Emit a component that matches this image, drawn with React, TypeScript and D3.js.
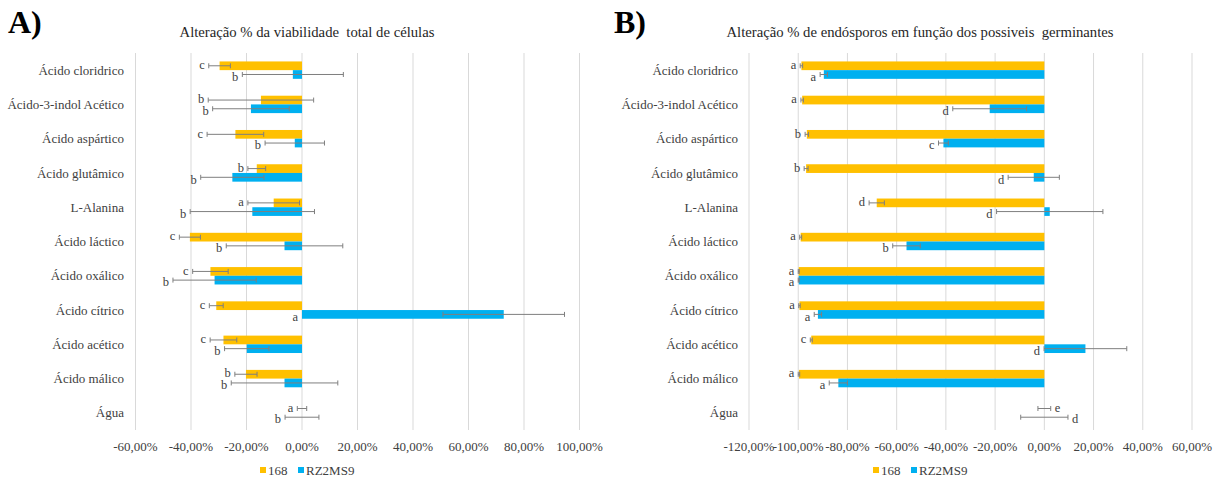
import React from 'react';
import * as d3 from 'd3';

const categories = [
  'Ácido cloridrico', 'Ácido-3-indol Acético', 'Ácido aspártico', 'Ácido glutâmico', 'L-Alanina',
  'Ácido láctico', 'Ácido oxálico', 'Ácido cítrico', 'Ácido acético', 'Ácido málico', 'Água'
];
const seriesNames = ['168', 'RZ2MS9'];

// Panel A: viabilidade total
const a168 = [-29.7, -14.8, -24.0, -16.3, -10.2, -40.4, -33.0, -30.9, -28.3, -20.2, 0];
const a168Err = [3.9, 19.0, 10.2, 3.2, 9.3, 3.8, 6.4, 2.5, 4.8, 4.0, 1.7];
const aRz = [-3.3, -18.4, -2.6, -25.1, -17.9, -6.3, -31.5, 72.7, -19.9, -6.3, 0];
const aRzErr = [18.2, 13.8, 10.7, 11.4, 22.4, 21.0, 15.0, 21.9, 8.0, 19.2, 6.1];
const a168Letters = ['c', 'b', 'c', 'b', 'a', 'c', 'c', 'c', 'c', 'b', 'a'];
const aRzLetters = ['b', 'b', 'b', 'b', 'b', 'b', 'b', 'a', 'b', 'b', 'b'];
const aTicks = [-60, -40, -20, 0, 20, 40, 60, 80, 100];

// Panel B: endósporos
const b168 = [-98.7, -98.4, -96.5, -96.8, -68.1, -99.0, -99.8, -99.5, -94.7, -99.7, 0];
const b168Err = [0.5, 0.5, 0.7, 0.8, 3.1, 0.4, 0.2, 0.3, 0.4, 0.3, 2.6];
const bRz = [-89.6, -22.2, -41.0, -4.3, 2.2, -56.0, -99.8, -92.0, 16.7, -83.7, 0];
const bRzErr = [1.5, 15.0, 2.0, 10.4, 21.6, 5.6, 0.2, 1.5, 16.8, 3.7, 9.6];
const b168Letters = ['a', 'a', 'b', 'b', 'd', 'a', 'a', 'a', 'c', 'a', 'e'];
const bRzLetters = ['a', 'd', 'c', 'd', 'd', 'b', 'a', 'a', 'd', 'a', 'd'];
const bTicks = [-120, -100, -80, -60, -40, -20, 0, 20, 40, 60];
const bRightLabelCats = ['Água'];

const COLORS = ['#FFC000', '#00B0F0'];
const FONT = 'Liberation Serif, DejaVu Serif, serif';

interface PanelProps {
  tag: string;
  title: string;
  tagX: number;
  titleX: number;
  labelX: number;
  xRange: [number, number];
  ticks: number[];
  s168: number[];
  e168: number[];
  sRz: number[];
  eRz: number[];
  l168: string[];
  lRz: string[];
  rightCats?: string[];
}

const fmt = (v: number) => `${v.toFixed(2).replace('.', ',')}%`;

const Panel: React.FC<PanelProps> = (p) => {
  const top = 53, bottom = 430;
  const x = d3.scaleLinear().domain([p.ticks[0], p.ticks[p.ticks.length - 1]]).range(p.xRange);
  const y = d3.scaleBand().domain(categories).range([top, bottom]);
  const barH = 8.7;
  const cap = 2.5;

  const series = [
    { vals: p.s168, errs: p.e168, letters: p.l168, off: -barH, ldy: -0.5 },
    { vals: p.sRz, errs: p.eRz, letters: p.lRz, off: 0, ldy: 2.5 },
  ];

  const legendX = p.titleX - 47;
  const txt = { fontFamily: FONT };

  return (
    <g style={txt}>
      <text x={p.tagX} y={33} fontSize={32} fontWeight="bold" fill="#000">{p.tag}</text>
      <text x={p.titleX} y={37} fontSize={14.7} textAnchor="middle" fill="#262626" style={{ whiteSpace: 'pre' }}>{p.title}</text>

      {p.ticks.map(t => (
        <g key={t}>
          <line x1={x(t)} x2={x(t)} y1={top} y2={bottom} stroke="#d9d9d9" strokeWidth={1} />
          <text x={x(t)} y={451} fontSize={13} textAnchor="middle" fill="#404040">{fmt(t)}</text>
        </g>
      ))}

      {categories.map(c => (
        <text key={c} x={p.labelX} y={(y(c) || 0) + y.bandwidth() / 2} dy="0.35em" fontSize={13}
          textAnchor="end" fill="#404040">{c}</text>
      ))}

      {series.map((s, si) => categories.map((c, i) => {
        const cy = (y(c) || 0) + y.bandwidth() / 2;
        const v = s.vals[i];
        const yb = cy + s.off;
        const ym = yb + barH / 2;
        const lo = v - s.errs[i], hi = v + s.errs[i];
        const right = p.rightCats && p.rightCats.includes(c);
        const lx = right ? x(Math.max(0, hi)) + 4 : x(Math.min(0, lo)) - 4;
        return (
          <g key={`${si}-${i}`}>
            <rect x={Math.min(x(0), x(v))} y={yb} width={Math.abs(x(v) - x(0))} height={barH} fill={COLORS[si]} />
            <line x1={x(lo)} x2={x(hi)} y1={ym} y2={ym} stroke="#7f7f7f" strokeWidth={1} />
            <line x1={x(lo)} x2={x(lo)} y1={ym - cap} y2={ym + cap} stroke="#7f7f7f" strokeWidth={1} />
            <line x1={x(hi)} x2={x(hi)} y1={ym - cap} y2={ym + cap} stroke="#7f7f7f" strokeWidth={1} />
            <text x={lx} y={ym + s.ldy} dy="0.3em" fontSize={12.5} textAnchor={right ? 'start' : 'end'}
              fill="#404040">{s.letters[i]}</text>
          </g>
        );
      }))}

      <g transform={`translate(${legendX},470)`}>
        <rect x={0} y={-3} width={6} height={6} fill={COLORS[0]} />
        <text x={8} y={0} dy="0.35em" fontSize={13} fill="#404040">{seriesNames[0]}</text>
        <rect x={38} y={-3} width={6} height={6} fill={COLORS[1]} />
        <text x={46} y={0} dy="0.35em" fontSize={13} fill="#404040">{seriesNames[1]}</text>
      </g>
    </g>
  );
};

export default function App() {
  return (
    <svg width={1217} height={477} style={{ position: 'absolute', left: 0, top: 0, background: '#fff' }}>
      <rect width={1217} height={477} fill="#fff" />
      <Panel tag="A)" title="Alteração % da viabilidade  total de células" tagX={8} titleX={307} labelX={124}
        xRange={[135.5, 579.5]} ticks={aTicks} s168={a168} e168={a168Err} sRz={aRz} eRz={aRzErr}
        l168={a168Letters} lRz={aRzLetters} />
      <Panel tag="B)" title="Alteração % de endósporos em função dos possiveis  germinantes" tagX={614} titleX={920} labelX={738}
        xRange={[749, 1192]} ticks={bTicks} s168={b168} e168={b168Err} sRz={bRz} eRz={bRzErr}
        l168={b168Letters} lRz={bRzLetters} rightCats={bRightLabelCats} />
    </svg>
  );
}
